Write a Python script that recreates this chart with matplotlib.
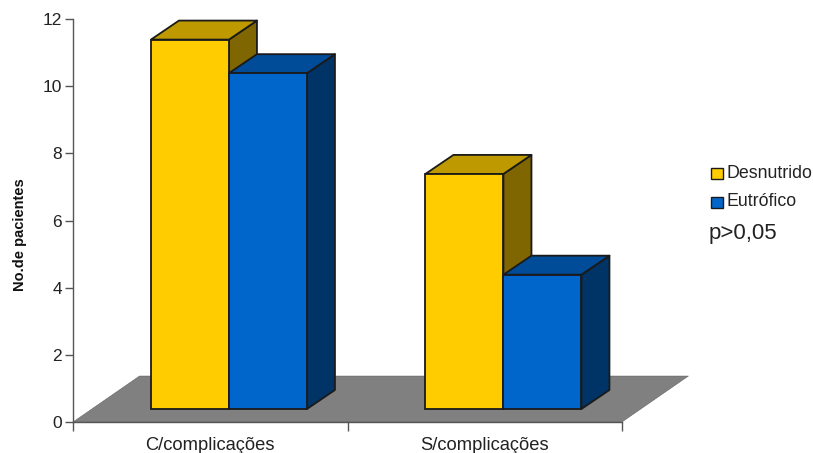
import matplotlib
matplotlib.use("Agg")
import matplotlib.pyplot as plt
from matplotlib.patches import Polygon, Rectangle

categories = ["C/complicações", "S/complicações"]
series_names = ["Desnutrido", "Eutrófico"]
desnutrido = [11, 7]
eutrofico = [10, 4]
y_ticks = [0, 2, 4, 6, 8, 10, 12]
annotation = "p>0,05"
y_label = "No.de pacientes"

front_colors = ["#FFCC00", "#0066CC"]
top_colors = ["#BF9900", "#004C99"]
side_colors = ["#806600", "#003366"]
floor_color = "#808080"
axis_color = "#555555"
edge_color = "#1a1a1a"

W, H = 813, 453
plt.rcParams["font.family"] = ["Liberation Sans", "DejaVu Sans"]
fig = plt.figure(figsize=(W / 100, H / 100), dpi=100, facecolor="white")
L, R, T, B = 73, 622, 19, 422
ax = fig.add_axes([L / W, 1 - B / H, (R - L) / W, (B - T) / H])
ax.set_xlim(0, len(categories))
ax.set_ylim(0, 12)

x_per_px = len(categories) / (R - L)
y_per_px = 12 / (B - T)

# oblique projection
floor_dx, floor_dy = 66.5 * x_per_px, 46 * y_per_px
depth_dx, depth_dy = 28 * x_per_px, 19 * y_per_px
base_dx, base_dy = 18.7 * x_per_px, 13 * y_per_px
bar_w = 78 * x_per_px

ax.add_patch(Polygon([(0, 0), (2, 0), (2 + floor_dx, floor_dy), (floor_dx, floor_dy)],
                     closed=True, fc=floor_color, ec=axis_color, lw=0.3,
                     clip_on=False, zorder=1))

LW = 1.3
for c in range(len(categories)):
    for s, values in enumerate([desnutrido, eutrofico]):
        v = values[c]
        x0 = c + 0.5 + base_dx + (s - 1) * bar_w
        x1 = x0 + bar_w
        y0, y1 = base_dy, base_dy + v
        z = 3 + s
        kw = dict(closed=True, ec=edge_color, lw=LW, joinstyle="round",
                  clip_on=False, zorder=z)
        ax.add_patch(Polygon([(x1, y0), (x1 + depth_dx, y0 + depth_dy),
                              (x1 + depth_dx, y1 + depth_dy), (x1, y1)],
                             fc=side_colors[s], **kw))
        ax.add_patch(Polygon([(x0, y1), (x1, y1), (x1 + depth_dx, y1 + depth_dy),
                              (x0 + depth_dx, y1 + depth_dy)],
                             fc=top_colors[s], **kw))
        ax.add_patch(Rectangle((x0, y0), bar_w, v, fc=front_colors[s], ec=edge_color,
                               lw=LW, clip_on=False, zorder=z))

for side in ("top", "right"):
    ax.spines[side].set_visible(False)
for side in ("left", "bottom"):
    ax.spines[side].set_color(axis_color)
    ax.spines[side].set_linewidth(1.0)
    ax.spines[side].set_zorder(2)

ax.set_yticks(y_ticks)
ax.set_xticks([0, 1, 2])
ax.set_xticklabels([])
ax.set_xticks([0.5, 1.5], labels=categories, minor=True)
ax.tick_params(axis="x", which="major", length=6.5, width=1, color=axis_color, direction="out")
ax.tick_params(axis="x", which="minor", length=0, labelsize=13.2, pad=10.5, labelcolor="#222222")
ax.tick_params(axis="y", length=6, width=1, color=axis_color, labelsize=12.5,
               pad=2, labelcolor="#222222")
ax.set_ylabel(y_label, fontsize=10.5, fontweight="bold", color="#111111")
ax.yaxis.set_label_coords((27 - L) / (R - L), (B - 235) / (B - T))

# legend drawn in figure pixels
def fx(px):
    return px / W
def fy(py):
    return 1 - py / H

legend_y = [173, 201]
box_bottom = [179, 208]
for name, col, py, pb in zip(series_names, front_colors, legend_y, box_bottom):
    fig.patches.append(Rectangle((fx(710.5), fy(pb)), 12 / W, 11 / H, fc=col, ec=edge_color,
                                 lw=1.0, transform=fig.transFigure))
    fig.text(fx(726), fy(py), name, fontsize=12.8, va="center", ha="left", color="#222222")
fig.text(fx(709), fy(234), annotation, fontsize=16, va="center", ha="left", color="#222222")

fig.savefig("out.png", dpi=100)
